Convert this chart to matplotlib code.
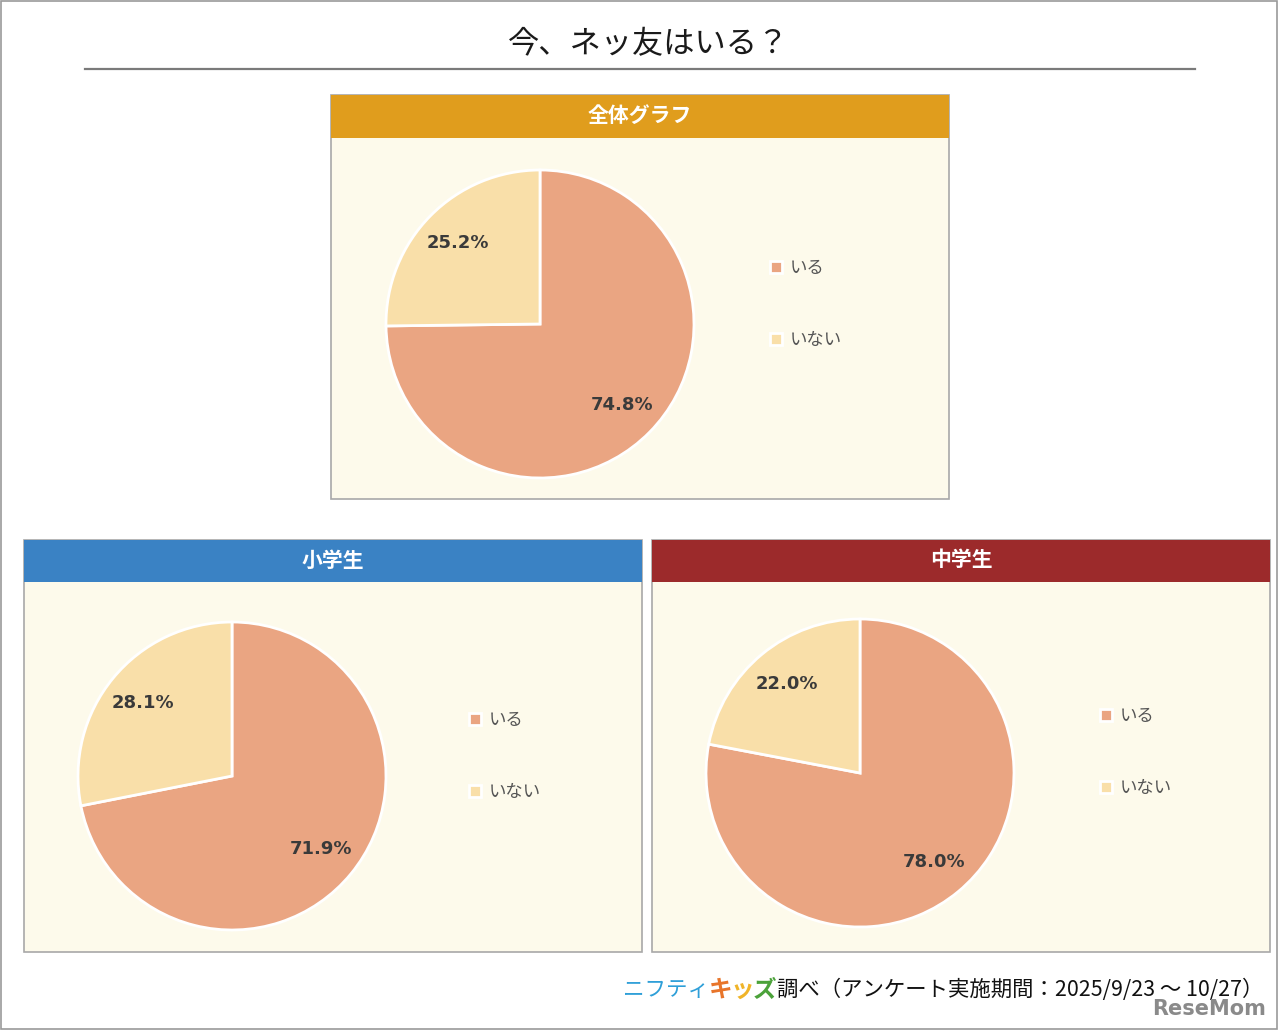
import matplotlib
matplotlib.use("Agg")
import matplotlib.pyplot as plt
from matplotlib.patches import Rectangle
from matplotlib.lines import Line2D

plt.rcParams['font.family'] = ['Noto Sans CJK JP', 'DejaVu Sans']

# ---------------- data ----------------
title = "今、ネッ友はいる？"
categories = ["いる", "いない"]
panel_titles = ["全体グラフ", "小学生", "中学生"]
values_all = [74.8, 25.2]
values_elem = [71.9, 28.1]
values_jh = [78.0, 22.0]
footer_logo = ["ニフティ", "キ", "ッ", "ズ"]
footer_text = "調べ（アンケート実施期間：2025/9/23 ～ 10/27）"

# ---------------- style ----------------
W, H = 1280, 1031
slice_colors = ["#EAA582", "#F9DFA9"]
header_colors = ["#E09D1D", "#3A82C4", "#9C2A2B"]
body_color = "#FDFAEB"
border_color = "#A8A8A8"

fig = plt.figure(figsize=(W / 100, H / 100), dpi=100)
fig.patch.set_facecolor("white")


def fx(x):
    return x / W


def fy(y):
    return 1 - y / H


def add_box(x0, y0, x1, y1, fc, ec=None, lw=1.0, z=-1):
    r = Rectangle((fx(x0), fy(y1)), fx(x1) - fx(x0), fy(y0) - fy(y1),
                  transform=fig.transFigure, facecolor=fc,
                  edgecolor=ec if ec else "none", linewidth=lw, zorder=z)
    fig.patches.append(r)


# outer frame
add_box(1, 1, 1277, 1029, "none", "#9A9A9A", 1.2, z=5)

# title + rule
fig.text(fx(649), fy(44), title, ha="center", va="center", fontsize=22.5, color="#1a1a1a")
fig.add_artist(Line2D([fx(85), fx(1195)], [fy(69), fy(69)], transform=fig.transFigure,
                      color="#7a7a7a", linewidth=1.6))

# panels: (x0, y0, x1, y1, header_bottom, pie center x, pie center y, legend x, legend y)
panels = [
    (331, 95, 949, 499, 138, 540, 324, 770, 266),
    (24, 540, 642, 952, 582, 232, 776, 469, 718),
    (652, 540, 1270, 952, 582, 860, 773, 1100, 714),
]
values = [values_all, values_elem, values_jh]
R = 154

for i, (x0, y0, x1, y1, hb, cx, cy, lx, ly) in enumerate(panels):
    add_box(x0, y0, x1, y1, body_color, border_color, 1.2)
    add_box(x0, y0, x1, hb, header_colors[i], None)
    fig.text(fx((x0 + x1) / 2), fy((y0 + hb) / 2 - 1), panel_titles[i], ha="center",
             va="center", fontsize=15, color="white", fontweight="bold")

    ax = fig.add_axes([fx(cx - R), fy(cy + R), R * 2 / W, R * 2 / H])
    wedges, _, autotexts = ax.pie(values[i], colors=slice_colors, startangle=90,
                                  counterclock=False, radius=1.0,
                                  autopct="%.1f%%", pctdistance=0.75,
                                  wedgeprops=dict(edgecolor="white", linewidth=2),
                                  textprops=dict(fontsize=13, fontweight="bold",
                                                 color="#3a3a3a",
                                                 family="DejaVu Sans"))
    ax.set_xlim(-1.0, 1.0)
    ax.set_ylim(-1.0, 1.0)
    ax.set_aspect("equal")
    ax.axis("off")

    leg = fig.legend(wedges, categories, loc="upper left",
                     bbox_to_anchor=(fx(lx), fy(ly - 7)), frameon=False,
                     fontsize=12.5, labelspacing=3.1, handlelength=0.7,
                     handleheight=0.7, handletextpad=0.45, borderpad=0,
                     borderaxespad=0)
    for t in leg.get_texts():
        t.set_color("#555555")

# footer
logo_colors = ["#2E9FD8", "#E8752A", "#F0B429", "#4BA23A"]
xpos = 623
renderer = fig.canvas.get_renderer()
for txt, col in zip(footer_logo, logo_colors):
    bold = txt != "ニフティ"
    t = fig.text(fx(xpos), fy(990), txt, ha="left", va="center",
                 fontsize=15.5 if not bold else 17,
                 color=col, fontweight="bold" if bold else "normal")
    bb = t.get_window_extent(renderer=renderer)
    xpos += bb.width + (0 if txt == "ニフティ" else -2)
fig.text(fx(777), fy(990), footer_text, ha="left", va="center", fontsize=15.4,
         color="#111111")
fig.text(fx(1266), fy(1009), "ReseMom", ha="right", va="center", fontsize=15,
         color="#8a8a8a", fontweight="bold", family="DejaVu Sans")

fig.savefig("out.png", dpi=100)
